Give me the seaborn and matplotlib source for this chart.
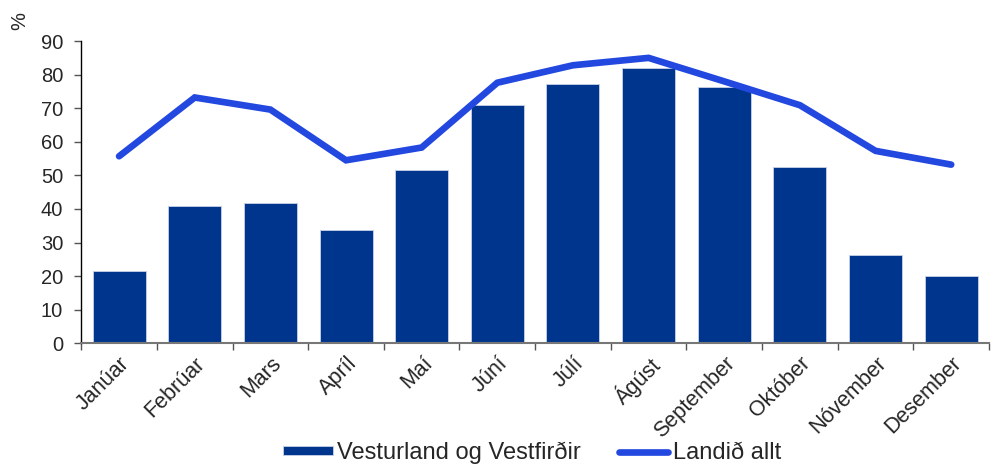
import numpy as np
import pandas as pd
import matplotlib
matplotlib.use('Agg')
import matplotlib.pyplot as plt
import seaborn as sns

# Data
months = ['Janúar', 'Febrúar', 'Mars', 'Apríl', 'Maí', 'Júní', 'Júlí',
          'Ágúst', 'September', 'Október', 'Nóvember', 'Desember']
vesturland = [21.5, 40.8, 41.8, 33.7, 51.5, 71.0, 77.1, 82.1, 76.3, 52.6, 26.2, 20.0]
landid = [55.7, 73.2, 69.6, 54.5, 58.3, 77.6, 82.8, 85.0, 78.0, 70.9, 57.3, 53.2]
yticks = list(range(0, 100, 10))

df = pd.DataFrame({'Mánuður': months, 'Vesturland': vesturland, 'Landið': landid})

sns.set_theme(style='white')
plt.rcParams['font.family'] = ['Liberation Sans', 'DejaVu Sans']

bar_color = '#00358E'
line_color = '#2248E0'

fig = plt.figure(figsize=(9.91, 4.67), dpi=100)
ax = fig.add_axes([0.082, 0.265, 0.916, 0.647])

sns.barplot(data=df, x='Mánuður', y='Vesturland', color=bar_color, width=0.7,
            edgecolor='#c8d0e8', linewidth=0.6, saturation=1,
            label='Vesturland og Vestfirðir', ax=ax)
ax.plot(range(len(months)), df['Landið'], color=line_color, lw=4.8,
        solid_capstyle='round', solid_joinstyle='miter', label='Landið allt')
if ax.get_legend() is not None:
    ax.get_legend().remove()

ax.set_ylim(0, 90)
ax.set_xlim(-0.5, len(months) - 0.5)
ax.set_yticks(yticks)
ax.set_yticklabels([str(v) for v in yticks], fontsize=14.5)
ax.set_xlabel('')
ax.set_ylabel('')

# tick marks on category boundaries, labels at centres
ax.set_xticks(np.arange(-0.5, len(months), 1.0))
ax.set_xticklabels([])
ax.set_xticks(range(len(months)), minor=True)
ax.set_xticklabels(months, minor=True, rotation=45, ha='right',
                   rotation_mode='anchor', fontsize=15.5)
ax.tick_params(axis='x', which='major', length=5, width=1, color='#555555',
               direction='out', bottom=True)
ax.tick_params(axis='x', which='minor', length=0, pad=7)
ax.tick_params(axis='y', length=5, width=1, color='#555555', direction='out',
               left=True, pad=8)

sns.despine(ax=ax)
ax.spines['left'].set_color('black')
ax.spines['left'].set_linewidth(1)
ax.spines['bottom'].set_color('#777777')
ax.spines['bottom'].set_linewidth(1.5)

fig.text(0.02, 0.955, '%', rotation=90, fontsize=14.5, ha='center', va='center')

handles, labels = ax.get_legend_handles_labels()
order = [labels.index('Vesturland og Vestfirðir'), labels.index('Landið allt')]
fig.legend([handles[i] for i in order], [labels[i] for i in order],
           loc='center', bbox_to_anchor=(0.537, 0.03),
           ncol=2, frameon=False, fontsize=17, handlelength=2.1,
           handleheight=0.25, handletextpad=0.2, columnspacing=1.6,
           borderpad=0)

fig.savefig('out.png', dpi=100)
